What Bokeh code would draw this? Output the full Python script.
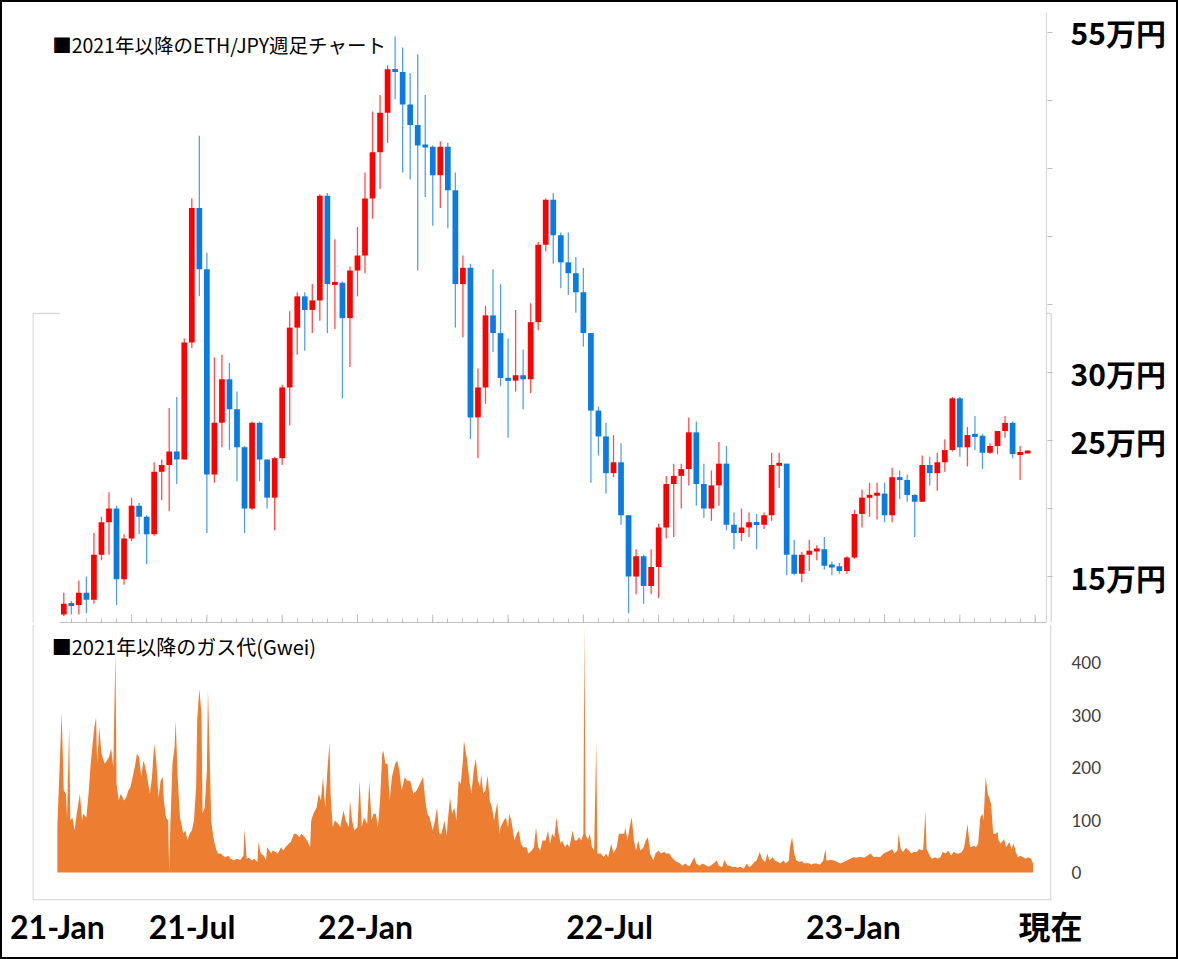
import numpy as np
from bokeh.plotting import figure
from bokeh.models import Range1d, FixedTicker, LinearAxis, Span, Label
from bokeh.layouts import column
from bokeh.embed import file_html
from bokeh.resources import INLINE

# ---------------- data ----------------
# weekly ETH/JPY candles since the first week of 2021 (values in 万円)
open_ = [12.2, 13.0, 12.9, 13.8, 13.3, 16.6, 19.0, 20.0, 14.8, 17.8,
         20.2, 19.4, 18.1, 22.7, 23.2, 24.2, 23.6, 32.2, 42.1, 37.6,
         22.5, 26.3, 29.5, 27.3, 24.5, 20.0, 26.3, 23.6, 20.8, 23.7,
         28.9, 33.3, 35.6, 34.6, 35.3, 43.0, 36.5, 36.6, 34.0, 37.5,
         38.6, 42.8, 46.2, 49.1, 52.3, 52.1, 49.7, 48.2, 46.7, 46.6,
         44.5, 46.6, 43.4, 36.5, 37.7, 26.7, 28.9, 34.2, 32.9, 29.6,
         29.4, 29.8, 29.5, 33.7, 39.4, 42.7, 40.1, 38.1, 37.3, 35.9,
         32.9, 27.2, 25.3, 22.6, 23.4, 19.5, 15.0, 16.5, 14.3, 15.7,
         18.6, 21.8, 22.4, 22.9, 25.6, 21.8, 20.0, 21.7, 23.3, 18.8,
         18.2, 18.6, 19.0, 18.8, 19.5, 23.2, 23.3, 16.6, 15.2, 16.6,
         16.9, 17.0, 15.8, 15.75, 15.4, 16.4, 19.6, 20.8, 21.0, 21.1,
         19.5, 22.3, 22.1, 21.0, 20.5, 23.2, 22.6, 23.4, 24.3, 28.1,
         24.5, 25.4, 25.35, 24.1, 24.6, 25.7, 26.3, 24.0, 24.1]
close = [13.0, 12.9, 13.8, 13.3, 16.6, 19.0, 20.0, 14.8, 17.8, 20.2,
         19.4, 18.1, 22.7, 23.2, 24.2, 23.6, 32.2, 42.1, 37.6, 22.5,
         26.3, 29.5, 27.3, 24.5, 20.0, 26.3, 23.6, 20.8, 23.7, 28.9,
         33.3, 35.6, 34.6, 35.3, 43.0, 36.5, 36.6, 34.0, 37.5, 38.6,
         42.8, 46.2, 49.1, 52.3, 52.1, 49.7, 48.2, 46.7, 46.6, 44.5,
         46.6, 43.4, 36.5, 37.7, 26.7, 28.9, 34.2, 32.9, 29.6, 29.4,
         29.8, 29.5, 33.7, 39.4, 42.7, 40.1, 38.1, 37.3, 35.9, 32.9,
         27.2, 25.3, 22.6, 23.4, 19.5, 15.0, 16.5, 14.3, 15.7, 18.6,
         21.8, 22.4, 22.9, 25.6, 21.8, 20.0, 21.7, 23.3, 18.8, 18.2,
         18.6, 19.0, 18.8, 19.5, 23.2, 23.3, 16.6, 15.2, 16.6, 16.9,
         17.0, 15.8, 15.75, 15.4, 16.4, 19.6, 20.8, 21.0, 21.1, 19.5,
         22.3, 22.1, 21.0, 20.5, 23.2, 22.6, 23.4, 24.3, 28.1, 24.5,
         25.4, 25.35, 24.1, 24.6, 25.7, 26.3, 24.0, 24.1, 24.2]
high = [13.8, 13.2, 14.7, 15.0, 18.2, 19.4, 21.2, 20.2, 18.1, 20.8,
        20.4, 19.5, 23.4, 23.6, 27.4, 28.2, 32.5, 42.8, 47.4, 38.8,
        31.1, 31.3, 30.7, 28.6, 24.6, 26.4, 26.4, 23.6, 23.8, 29.1,
        34.5, 35.9, 35.9, 36.5, 43.1, 43.2, 39.8, 36.7, 37.8, 40.7,
        44.7, 49.2, 50.4, 52.6, 54.7, 53.9, 52.0, 53.4, 50.4, 46.7,
        47.0, 46.9, 44.7, 38.6, 38.0, 30.3, 34.9, 37.6, 36.5, 32.5,
        34.6, 31.7, 35.1, 39.6, 42.8, 43.2, 40.3, 40.3, 38.5, 37.7,
        32.9, 27.5, 26.3, 25.4, 24.8, 19.5, 17.0, 16.6, 17.0, 18.9,
        22.4, 23.3, 23.3, 26.7, 26.4, 23.3, 22.8, 24.9, 24.6, 19.7,
        20.0, 19.7, 19.6, 19.7, 24.1, 24.1, 23.3, 17.7, 16.8, 17.7,
        17.3, 17.9, 16.1, 16.0, 16.5, 19.9, 21.4, 21.9, 21.9, 21.9,
        23.0, 22.8, 22.5, 21.05, 23.9, 23.8, 24.1, 25.1, 28.2, 28.2,
        26.0, 26.8, 25.5, 24.8, 25.7, 26.8, 26.4, 24.6, 24.25]
low = [12.1, 12.2, 12.2, 12.3, 13.0, 16.2, 16.6, 12.9, 14.4, 17.6,
       18.1, 15.9, 18.0, 20.6, 19.8, 21.8, 23.6, 31.8, 35.6, 18.2,
       21.9, 24.5, 24.3, 22.0, 18.2, 19.9, 22.0, 20.0, 18.4, 23.2,
       26.1, 31.3, 31.6, 32.9, 33.8, 32.9, 33.2, 28.1, 30.4, 35.6,
       37.3, 41.3, 43.5, 46.9, 50.1, 44.7, 44.2, 37.5, 42.9, 40.8,
       42.1, 40.6, 33.3, 32.6, 25.1, 23.7, 27.7, 31.5, 29.0, 25.2,
       28.6, 27.3, 28.5, 33.1, 38.9, 38.0, 36.2, 35.7, 34.4, 31.9,
       21.9, 23.9, 21.1, 22.3, 18.8, 12.3, 13.7, 13.0, 13.7, 13.4,
       17.8, 17.9, 20.0, 21.7, 20.2, 19.3, 19.1, 20.2, 18.4, 17.0,
       17.6, 17.9, 17.0, 18.5, 19.1, 21.5, 15.1, 15.1, 14.6, 15.4,
       16.2, 15.5, 15.1, 15.2, 15.2, 16.3, 18.6, 19.4, 19.2, 19.0,
       19.0, 20.7, 20.5, 17.9, 20.5, 21.7, 21.3, 22.7, 24.2, 23.8,
       23.1, 24.3, 22.9, 24.0, 24.0, 25.2, 23.7, 22.1, 24.05]

# daily gas price (Gwei); day 0 = 2021-01-01
gas_day = [0, 4, 6, 8, 9, 11, 12, 14, 16, 18, 21, 23, 24, 27, 29, 31, 34, 36, 37, 39,
           41, 44, 46, 48, 50, 52, 54, 55, 57, 59, 62, 64, 66, 68, 70, 72, 74, 76, 78, 80,
           81, 83, 86, 88, 90, 92, 94, 96, 98, 99, 101, 103, 104, 105, 107, 109, 110, 112, 114, 116,
           117, 119, 121, 123, 125, 127, 129, 130, 132, 134, 135, 137, 139, 140, 142, 143, 145, 147, 149, 152,
           154, 156, 159, 161, 164, 167, 170, 173, 174, 176, 178, 181, 183, 186, 187, 189, 192, 194, 195, 197,
           199, 200, 203, 205, 208, 210, 212, 215, 217, 220, 222, 225, 227, 230, 232, 235, 236, 238, 241, 243,
           245, 247, 249, 251, 253, 254, 256, 258, 261, 263, 266, 268, 271, 272, 274, 276, 279, 281, 283, 285,
           288, 290, 292, 294, 296, 298, 300, 302, 303, 305, 307, 309, 311, 314, 316, 318, 320, 323, 325, 328,
           331, 334, 337,
           340, 342, 344, 346, 349, 351, 353, 355, 357, 360, 362, 363, 365, 367, 369, 371, 373, 375, 377, 378,
           380, 381, 383, 385, 387, 389, 391, 393, 394, 396, 398, 400, 402, 404, 406, 407, 409, 411, 412, 415,
           417, 419, 420, 422, 425, 427, 429, 431, 433, 436, 438, 441, 443, 445, 447, 449, 451, 454, 456, 458,
           460, 462, 464, 466, 468, 469, 472, 474, 476, 479, 481, 483, 485, 487, 489, 490, 491, 493, 495, 497,
           499, 501, 502, 505, 508, 510, 512, 515, 517, 520, 522, 524, 527, 528, 530, 532, 534, 536, 538, 540,
           542, 545, 547, 549, 551, 554, 556, 559, 561, 564, 566, 569, 571, 574, 576, 579, 581, 584, 586, 588,
           592, 594, 597, 600, 602, 605, 607, 610, 613, 615, 618, 620, 623, 625, 628, 630, 632, 635, 638, 641,
           643, 645, 648, 650, 653, 655, 658, 660, 662, 665, 667, 670, 672, 675, 677, 680, 681, 683, 685, 687,
           690, 692, 694, 698, 701, 703, 706, 709,
           712, 714, 715, 719, 722, 725, 728, 731, 734, 737, 740, 743, 746, 750, 753, 756, 759, 762, 765, 768,
           771, 774, 776, 778, 781, 782, 784, 786, 789, 791, 794, 796, 799, 801, 804, 805, 807, 808, 811, 813,
           816, 818, 821, 823, 826, 828, 831, 833, 836, 838, 841, 843, 844, 846, 848, 849, 852, 854, 856, 858,
           860, 861, 863, 865, 867, 868, 870, 872, 874, 875, 877, 880, 882, 885, 887, 889, 891, 893, 895, 898,
           900, 903, 905, 907]
gas_gwei = [86, 305, 156, 150, 105, 277, 99, 105, 80, 112, 150, 99, 112, 105, 150, 207, 270, 296, 207, 277,
            226, 207, 213, 220, 236, 201, 420, 169, 137, 150, 137, 143, 156, 163, 182, 201, 226, 220, 182, 213,
            207, 188, 150, 182, 245, 213, 143, 175, 182, 137, 105, 99, 0, 86, 207, 239, 290, 175, 105, 86,
            74, 80, 61, 74, 80, 99, 163, 290, 350, 302, 112, 124, 194, 350, 194, 99, 67, 48, 36, 36,
            32, 29, 32, 26, 23, 26, 24, 32, 83, 26, 28, 23, 26, 20, 58, 36, 32, 23, 48, 42,
            36, 42, 39, 36, 48, 42, 48, 55, 58, 74, 74, 67, 74, 67, 61, 48, 99, 112, 124, 150,
            137, 182, 124, 194, 248, 150, 86, 99, 93, 86, 118, 99, 86, 137, 99, 80, 86, 175, 86, 105,
            93, 175, 99, 112, 112, 86, 137, 226, 232, 207, 207, 137, 182, 207, 213, 194, 156, 182, 175, 175,
            150, 156, 169,
            182, 137, 112, 105, 80, 99, 124, 74, 74, 99, 70, 99, 143, 112, 124, 99, 175, 169, 213, 251,
            226, 213, 175, 150, 194, 217, 175, 163, 188, 150, 156, 185, 137, 124, 99, 112, 134, 74, 86, 99,
            105, 86, 112, 99, 61, 74, 80, 55, 48, 48, 36, 42, 48, 86, 48, 42, 61, 61, 80, 55,
            74, 67, 105, 74, 55, 61, 48, 55, 48, 80, 61, 61, 67, 61, 74, 470, 74, 61, 74, 48,
            42, 251, 36, 36, 29, 36, 29, 55, 36, 48, 74, 74, 74, 86, 61, 86, 105, 61, 42, 61,
            42, 48, 61, 67, 36, 23, 36, 42, 36, 39, 36, 36, 29, 23, 20, 17, 13, 17, 13, 13,
            29, 17, 13, 17, 15, 11, 13, 17, 23, 13, 10, 24, 13, 13, 10, 11, 9, 11, 7, 17,
            10, 13, 20, 23, 39, 26, 20, 36, 23, 29, 23, 20, 17, 23, 17, 23, 48, 67, 36, 23,
            20, 22, 17, 18, 15, 17, 17, 15,
            23, 45, 23, 24, 23, 20, 17, 20, 23, 26, 29, 28, 30, 28, 32, 36, 29, 30, 29, 36,
            39, 42, 45, 36, 42, 74, 45, 39, 47, 43, 36, 39, 39, 45, 42, 45, 118, 45, 32, 26,
            29, 26, 29, 39, 36, 42, 32, 39, 36, 36, 39, 48, 61, 93, 55, 48, 51, 48, 55, 105,
            112, 99, 182, 150, 137, 131, 74, 74, 77, 61, 55, 64, 48, 58, 45, 55, 39, 29, 32, 29,
            26, 29, 26, 17]

price_label_ticks = [15, 25, 30, 55]
price_labels = ["15万円", "25万円", "30万円", "55万円"]
price_minor_ticks = [20, 35, 40, 45, 50]
week_major_ticks = list(range(9, 131, 10))
week_minor_ticks = list(range(1, 131, 2))
gas_ticks = [0, 100, 200, 300, 400]
date_label_weeks = [-0.84, 17.03, 40.07, 72.47, 104.87, 131.03]
date_labels = ["21-Jan", "21-Jul", "22-Jan", "22-Jul", "23-Jan", "現在"]

RED = "#FF0000"
BLUE = "#0A7BE0"
ORANGE = "#ED7D31"
AXIS_GRAY = "#BFBFBF"
BOX_GRAY = "#D9D9D9"
JP = "Noto Sans CJK JP"
LAT = "Lato, 'Noto Sans CJK JP', sans-serif"

# layout ranges (weeks on x, same pixel scale in both panels)
X_START = -4.157
X1_END = 131.30
X2_END = 131.17
AXIS_X_START, AXIS_X_END = -0.571, 130.50
BOX_LEFT, BOX_RIGHT, BOX_TOP = -4.1, 131.15, 34.34
Y1_START, Y1_END = 11.62, 56.47
Y2_START, Y2_END = -53.3, 472.4

# ---------------- candle panel ----------------
o = np.array(open_); c = np.array(close); h = np.array(high); l = np.array(low)
wk = np.arange(len(o))
up = c >= o
btop = np.maximum(o, c); bbot = np.minimum(o, c)
mid = (btop + bbot) / 2
thin = (btop - bbot) < 0.22
btop = np.where(thin, mid + 0.11, btop)
bbot = np.where(thin, mid - 0.11, bbot)
cols = np.where(up, RED, BLUE).tolist()

p1 = figure(frame_width=1020, frame_height=610,
            x_range=Range1d(X_START, X1_END), y_range=Range1d(Y1_START, Y1_END),
            x_axis_type=None, y_axis_type=None,
            min_border_left=32, min_border_right=126, min_border_top=12, min_border_bottom=2,
            output_backend="svg", toolbar_location=None)
p1.outline_line_color = None
p1.background_fill_color = "white"
p1.border_fill_color = "white"

# upper part of the gas panel's light frame (visible beside the candle panel)
p1.multi_line(xs=[[BOX_LEFT, BOX_LEFT], [BOX_LEFT, AXIS_X_START],
                  [BOX_RIGHT, BOX_RIGHT], [AXIS_X_END, BOX_RIGHT]],
              ys=[[Y1_START, BOX_TOP], [BOX_TOP, BOX_TOP],
                  [Y1_START, BOX_TOP], [BOX_TOP, BOX_TOP]],
              line_color=BOX_GRAY, line_width=1.5, level="underlay")

# candle value axis line
p1.add_layout(Span(location=AXIS_X_END, dimension="height", line_color=BOX_GRAY, line_width=1.2))

xax = LinearAxis(ticker=FixedTicker(ticks=[], minor_ticks=week_minor_ticks),
                 bounds=(AXIS_X_START, AXIS_X_END),
                 axis_line_color=AXIS_GRAY, major_tick_line_color=None, minor_tick_line_color=AXIS_GRAY,
                 minor_tick_in=4, minor_tick_out=0, major_label_standoff=0)
p1.add_layout(xax, "below")
# longer (major) tick marks every 10 weeks, pointing up into the plot
p1.segment(x0=week_major_ticks, y0=Y1_START, x1=week_major_ticks, y1=Y1_START + 8 / 13.6,
           line_color=AXIS_GRAY, line_width=1)

yax = LinearAxis(ticker=FixedTicker(ticks=price_label_ticks, minor_ticks=price_minor_ticks),
                 major_label_overrides=dict(zip(price_label_ticks, price_labels)),
                 axis_line_color=None, major_tick_line_color=AXIS_GRAY, minor_tick_line_color=AXIS_GRAY,
                 major_tick_in=5, major_tick_out=0, minor_tick_in=5, minor_tick_out=0,
                 major_label_standoff=18,
                 major_label_text_font=JP, major_label_text_font_size="30px",
                 major_label_text_font_style="bold", major_label_text_color="black")
p1.add_layout(yax, "right")

p1.segment(x0=wk, y0=l, x1=wk, y1=h, line_color=cols, line_width=1.3, line_alpha=0.7)
p1.vbar(x=wk, width=0.76, top=btop, bottom=bbot, fill_color=cols, line_color=None)

p1.add_layout(Label(x=-1.55, y=54.12, text="■2021年以降のETH/JPY週足チャート",
                    text_font=JP, text_font_size="19.5px", text_color="black",
                    text_baseline="middle", text_align="left"))

# ---------------- gas panel ----------------
gas_x = (np.array(gas_day) - 6) / 7.0   # days -> weeks (same scale as candles)
g = np.array(gas_gwei, dtype=float)

p2 = figure(frame_width=1019, frame_height=276,
            x_range=Range1d(X_START, X2_END), y_range=Range1d(Y2_START, Y2_END),
            x_axis_type=None, y_axis_type=None,
            min_border_left=32, min_border_right=127, min_border_top=0, min_border_bottom=59,
            output_backend="svg", toolbar_location=None)
p2.outline_line_color = None
p2.background_fill_color = "white"
p2.border_fill_color = "white"

p2.varea(x=gas_x, y1=0, y2=g, fill_color=ORANGE)

for loc in (BOX_LEFT, BOX_RIGHT - 0.05):
    p2.add_layout(Span(location=loc, dimension="height", line_color=BOX_GRAY, line_width=1.5))
p2.add_layout(Span(location=-52.0, dimension="width", line_color=BOX_GRAY, line_width=1.5))

gax = LinearAxis(ticker=FixedTicker(ticks=gas_ticks, minor_ticks=[]),
                 axis_line_color=None, major_tick_line_color=None, minor_tick_line_color=None,
                 major_label_standoff=14, major_label_text_font=LAT, major_label_text_font_size="17px",
                 major_label_text_color="#404040")
p2.add_layout(gax, "right")

dax = LinearAxis(ticker=FixedTicker(ticks=date_label_weeks, minor_ticks=[]),
                 major_label_overrides=dict(zip(date_label_weeks, date_labels)),
                 axis_line_color=None, major_tick_line_color=None, minor_tick_line_color=None,
                 major_label_standoff=0, major_label_text_font=LAT, major_label_text_font_size="32px",
                 major_label_text_font_style="bold", major_label_text_color="black")
p2.add_layout(dax, "below")

p2.add_layout(Label(x=-1.6, y=430.5, text="■2021年以降のガス代(Gwei)",
                    text_font=JP, text_font_size="20px", text_color="black",
                    text_baseline="middle", text_align="left"))

frame_css = (":host { position: relative; } "
             ":host::after { content: ''; position: absolute; left: 0; top: 0; right: 0; bottom: 0; "
             "border: 2px solid black; pointer-events: none; z-index: 100; }")
layout = column(p1, p2, stylesheets=[frame_css])
open("out.html", "w").write(file_html(layout, INLINE))
